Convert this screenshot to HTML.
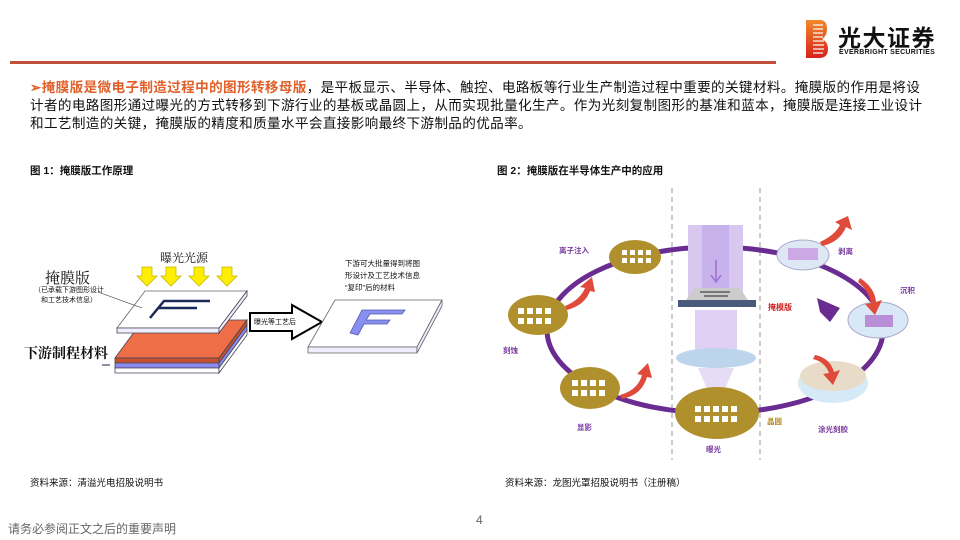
<!DOCTYPE html>
<html><head><meta charset="utf-8"><style>
*{margin:0;padding:0}
body{width:960px;height:540px;position:relative;background:#fff;font-family:"Liberation Sans","Noto Sans CJK SC",sans-serif;overflow:hidden;color:#111}
.a{position:absolute;white-space:nowrap}
</style></head><body>
<div class="a" style="left:10px;top:61px;width:766px;height:3px;background:#c0503a"></div>
<svg class="a" style="left:806px;top:20px" width="22" height="38" viewBox="0 0 22 38">
<defs><linearGradient id="lg" x1="0" y1="0" x2="0" y2="1"><stop offset="0" stop-color="#f08a2a"/><stop offset="1" stop-color="#d8201e"/></linearGradient></defs>
<path d="M0 0H14Q21 0 21 9Q21 16 16 19Q22 22 22 29Q22 38 13 38H0Z" fill="url(#lg)"/>
<g stroke="#fff" stroke-width="1.2"><line x1="7" y1="5" x2="17" y2="5"/><line x1="7" y1="9" x2="17" y2="9"/><line x1="7" y1="13" x2="17" y2="13"/><line x1="7" y1="17" x2="17" y2="17"/><line x1="7" y1="21" x2="18" y2="21"/><line x1="7" y1="25" x2="18" y2="25"/><line x1="7" y1="29" x2="18" y2="29"/><line x1="7" y1="33" x2="17" y2="33"/></g></svg>
<div class="a" style="left:838px;top:19px;font-size:23px;font-weight:bold;letter-spacing:1.5px">光大证券</div>
<div class="a" style="left:839px;top:49px;font-size:7px;font-weight:bold;letter-spacing:0.3px">EVERBRIGHT SECURITIES</div>

<div class="a" style="left:30px;top:79px;font-size:13.6px;line-height:18px;letter-spacing:0.35px">
<span style="color:#e0602a;font-weight:bold">➢掩膜版是微电子制造过程中的图形转移母版</span>，是平板显示、半导体、触控、电路板等行业生产制造过程中重要的关键材料。掩膜版的作用是将设<br>计者的电路图形通过曝光的方式转移到下游行业的基板或晶圆上，从而实现批量化生产。作为光刻复制图形的基准和蓝本，掩膜版是连接工业设计<br>和工艺制造的关键，掩膜版的精度和质量水平会直接影响最终下游制品的优品率。</div>

<div class="a" style="left:30px;top:163px;font-size:10.5px;font-weight:bold">图 1：掩膜版工作原理</div>
<div class="a" style="left:497px;top:163px;font-size:10.5px;font-weight:bold">图 2：掩膜版在半导体生产中的应用</div>

<svg class="a" style="left:0;top:0" width="480" height="480">
<g fill="#ffee00" stroke="#c8b800" stroke-width="0.8">
<path d="M142 267h10v9h5l-10 10l-10-10h5z"/><path d="M166 267h10v9h5l-10 10l-10-10h5z"/><path d="M194 267h10v9h5l-10 10l-10-10h5z"/><path d="M222 267h10v9h5l-10 10l-10-10h5z"/></g>
<g stroke="#445" stroke-width="0.8">
<path d="M115 358L143 320H247L219 358Z" fill="#ee6e48"/>
<path d="M115 358H219V363H115Z" fill="#c8502e"/><path d="M219 358L247 320V325L219 363Z" fill="#c8502e"/>
<path d="M115 363H219V368H115Z" fill="#8c8cf0"/><path d="M219 363L247 325V330L219 368Z" fill="#8c8cf0"/>
<path d="M115 368H219V373H115Z" fill="#fff"/><path d="M219 368L247 330V335L219 373Z" fill="#fff"/>
<path d="M117 328L145 291H247L219 328Z" fill="#fff" stroke="#666"/>
<path d="M117 328H219V333H117Z" fill="#eef"/><path d="M219 328L247 291V296L219 333Z" fill="#eef"/>
</g>
<path d="M150 318L164 301H210M158 308H197" stroke="#1c2a5a" stroke-width="2.5" fill="none"/>
<path d="M98 292L142 308" stroke="#333" stroke-width="0.6"/>
<path d="M102 365H110" stroke="#225" stroke-width="1"/>
<path d="M250 313H292V305L322 322L292 339V331H250Z" fill="#fff" stroke="#000" stroke-width="2"/>
<path d="M308 347L335 300H442L417 347Z" fill="#fff" stroke="#666" stroke-width="0.8"/>
<path d="M308 347H417V353H308Z" fill="#eef" stroke="#666" stroke-width="0.8"/><path d="M417 347L442 300V306L417 353Z" fill="#eef" stroke="#666" stroke-width="0.8"/>
<path d="M350 333L362 310H405L402 314H370L366 320H390L387 324H364L358 335Z" fill="#8890ee" stroke="#5058b0" stroke-width="0.8"/>
</svg>
<div class="a" style="left:160px;top:249px;font-size:12px;font-family:'Liberation Serif','Noto Serif CJK SC',serif">曝光光源</div>
<div class="a" style="left:45px;top:267px;font-size:15px;font-family:'Liberation Serif','Noto Serif CJK SC',serif">掩膜版</div>
<div class="a" style="left:34px;top:286px;font-size:7px;line-height:10px;text-align:center">（已承载下游图形设计<br>和工艺技术信息）</div>
<div class="a" style="left:24px;top:343px;font-size:14px;font-weight:bold;font-family:'Liberation Serif','Noto Serif CJK SC',serif">下游制程材料</div>
<div class="a" style="left:254px;top:317px;font-size:7px">曝光等工艺后</div>
<div class="a" style="left:345px;top:258px;font-size:7.5px;line-height:12px">下游可大批量得到将图<br>形设计及工艺技术信息<br>“复印”后的材料</div>

<svg class="a" style="left:490px;top:180px" width="460" height="290">
<line x1="182" y1="8" x2="182" y2="280" stroke="#999" stroke-dasharray="5,4"/>
<line x1="270" y1="8" x2="270" y2="280" stroke="#999" stroke-dasharray="5,4"/>
<ellipse cx="225" cy="150" rx="168" ry="83" fill="none" stroke="#6a2c91" stroke-width="5"/>
<path d="M327 118L350 128L340 142L330 132Z" fill="#6a2c91"/>
<rect x="198" y="45" width="55" height="80" fill="#d8c8f0"/><rect x="212" y="45" width="27" height="80" fill="#c0a8e8" opacity=".7"/>
<rect x="205" y="130" width="42" height="40" fill="#e0d0f4"/>
<ellipse cx="226" cy="178" rx="40" ry="10" fill="#bcd4ec"/>
<path d="M208 188L244 188L228 225L224 225Z" fill="#e6dcf6"/>
<rect x="188" y="120" width="78" height="7" fill="#4a5a7a"/>
<path d="M196 120L204 108H250L258 120Z" fill="#ccc"/>
<path d="M210 112l30 0M214 116l24 0" stroke="#222"/>
<path d="M226 80V100M221 95L226 102L231 95" stroke="#9a70d0" fill="none" stroke-width="1.5"/>
<g fill="#b0902c"><ellipse cx="145" cy="77" rx="26" ry="17"/><ellipse cx="48" cy="135" rx="30" ry="20"/><ellipse cx="100" cy="208" rx="30" ry="21"/><ellipse cx="227" cy="233" rx="42" ry="26"/></g>
<g fill="#fff">
<rect x="132" y="70" width="5" height="5"/><rect x="140" y="70" width="5" height="5"/><rect x="148" y="70" width="5" height="5"/><rect x="156" y="70" width="5" height="5"/><rect x="132" y="78" width="5" height="5"/><rect x="140" y="78" width="5" height="5"/><rect x="148" y="78" width="5" height="5"/><rect x="156" y="78" width="5" height="5"/>
<rect x="28" y="128" width="6" height="6"/><rect x="37" y="128" width="6" height="6"/><rect x="46" y="128" width="6" height="6"/><rect x="55" y="128" width="6" height="6"/><rect x="28" y="138" width="6" height="6"/><rect x="37" y="138" width="6" height="6"/><rect x="46" y="138" width="6" height="6"/><rect x="55" y="138" width="6" height="6"/>
<rect x="82" y="200" width="6" height="6"/><rect x="91" y="200" width="6" height="6"/><rect x="100" y="200" width="6" height="6"/><rect x="109" y="200" width="6" height="6"/><rect x="82" y="210" width="6" height="6"/><rect x="91" y="210" width="6" height="6"/><rect x="100" y="210" width="6" height="6"/><rect x="109" y="210" width="6" height="6"/>
<rect x="205" y="226" width="6" height="6"/><rect x="214" y="226" width="6" height="6"/><rect x="223" y="226" width="6" height="6"/><rect x="232" y="226" width="6" height="6"/><rect x="241" y="226" width="6" height="6"/><rect x="205" y="236" width="6" height="6"/><rect x="214" y="236" width="6" height="6"/><rect x="223" y="236" width="6" height="6"/><rect x="232" y="236" width="6" height="6"/><rect x="241" y="236" width="6" height="6"/></g>
<ellipse cx="313" cy="75" rx="26" ry="15" fill="#dde8f4" stroke="#aac" /><rect x="298" y="68" width="30" height="12" fill="#c898e0" opacity=".8"/>
<ellipse cx="388" cy="140" rx="30" ry="18" fill="#d8e8f6" stroke="#aac"/><rect x="375" y="135" width="28" height="12" fill="#b078d0" opacity=".8"/>
<ellipse cx="343" cy="203" rx="35" ry="20" fill="#d4eaf6"/><ellipse cx="343" cy="196" rx="33" ry="15" fill="#e8dcc8"/>
<g fill="#e04a3a"><path d="M330 62Q345 55 350 45L345 42L358 36L362 50L356 47Q350 62 332 66Z"/><path d="M370 98Q385 108 386 122L392 120L385 135L375 124L381 123Q378 110 368 102Z"/><path d="M325 175Q340 178 344 192L350 190L343 205L333 194L339 193Q335 182 323 179Z"/><path d="M130 215Q148 210 152 195L147 194L158 183L162 198L157 197Q152 215 132 219Z"/><path d="M75 126Q90 120 95 108L90 107L102 97L105 112L100 111Q95 125 77 130Z"/></g>
</svg>
<div class="a" style="left:559px;top:245px;font-size:7.5px;color:#7a3aa0;font-weight:bold">离子注入</div>
<div class="a" style="left:503px;top:345px;font-size:7.5px;color:#7a3aa0;font-weight:bold">刻蚀</div>
<div class="a" style="left:577px;top:422px;font-size:7.5px;color:#7a3aa0;font-weight:bold">显影</div>
<div class="a" style="left:706px;top:444px;font-size:7.5px;color:#7a3aa0;font-weight:bold">曝光</div>
<div class="a" style="left:767px;top:416px;font-size:7.5px;color:#b08a20;font-weight:bold">晶圆</div>
<div class="a" style="left:818px;top:424px;font-size:7.5px;color:#7a3aa0;font-weight:bold">涂光刻胶</div>
<div class="a" style="left:900px;top:285px;font-size:7.5px;color:#7a3aa0;font-weight:bold">沉积</div>
<div class="a" style="left:838px;top:246px;font-size:7.5px;color:#7a3aa0;font-weight:bold">剥离</div>
<div class="a" style="left:768px;top:302px;font-size:8px;color:#d02020;font-weight:bold">掩模版</div>

<div class="a" style="left:30px;top:475px;font-size:9.5px">资料来源：清溢光电招股说明书</div>
<div class="a" style="left:505px;top:475px;font-size:9.5px">资料来源：龙图光罩招股说明书（注册稿）</div>
<div class="a" style="left:8px;top:520px;font-size:12px;color:#666">请务必参阅正文之后的重要声明</div>
<div class="a" style="left:476px;top:513px;font-size:12px;color:#666">4</div>
</body></html>
